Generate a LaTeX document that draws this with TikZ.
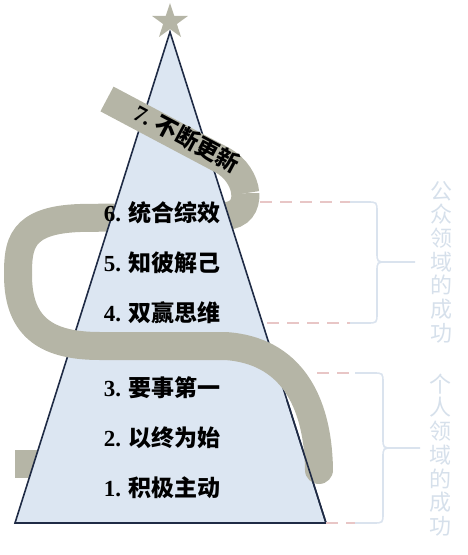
\documentclass[tikz,border=0pt]{standalone}
\usepackage{fontspec}
\setmainfont{Liberation Serif}
\newfontfamily\cjk{Noto Sans CJK SC}
\usetikzlibrary{shapes.geometric,calc,positioning}
\definecolor{ribbongray}{HTML}{B5B5A6}
\definecolor{treefill}{HTML}{DCE6F2}
\definecolor{treeline}{HTML}{1F2B45}
\definecolor{leadpink}{HTML}{E8C6C6}
\definecolor{bracecol}{HTML}{DAE3EE}
\definecolor{sideblue}{HTML}{D6E0EB}
\newcommand{\habit}[2]{\textbf{#1.}\hspace{0.3em}{\cjk\bfseries #2}}

\begin{document}
\begin{tikzpicture}[x=1pt, y=-1pt, node distance=50pt,
  ribbon/.style={draw=ribbongray, line width=28pt},
  treeedge/.style={draw=treeline, line width=1.6pt},
  habitlabel/.style={font=\fontsize{23}{26}\selectfont, text=black, inner sep=0pt},
  side/.style={font=\cjk\fontsize{22}{23.7}\selectfont, text=sideblue, align=center, inner sep=0pt},
  brace/.style={draw=bracecol, line width=1.6pt},
  leader/.style={draw=leadpink, line width=1.6pt, dash pattern=on 12pt off 8pt}]
  \useasboundingbox (0,0) rectangle (467,555);

  % ribbon behind the tree
  \draw[ribbon] (15,464) -- (280,464);
  \draw[ribbon] (245.25,193.25) .. controls (246.25,205.25) and (240,215.5) .. (225,216) -- (80,218)
    .. controls (20,220) and (18,245) .. (18,275);

  % tree
  \coordinate (apex) at (170,32);
  \coordinate (bl) at (15,523);
  \coordinate (br) at (326,523);
  \draw[treeedge, fill=treefill] (apex) -- (br) -- (bl) -- cycle;

  % ribbon in front of the tree
  \draw[ribbon] (107,99) -- (222,160) .. controls (236,167.5) and (244.25,181.25) .. (245.25,193.25);
  \draw[ribbon, line cap=round] (18,275) .. controls (18,330) and (50,346) .. (100,346) -- (225,346)
    .. controls (290,350) and (318,400) .. (319,470);
  \draw[treeedge] ($(apex)!0.75!(br)$) -- (br);

  \node[star, star points=5, star point ratio=2.6, fill=ribbongray, minimum size=37.6pt, inner sep=0pt] (topstar) at (170,21.8) {};

  % the seven habits
  \node[habitlabel] (habit1) at (162,488) {\habit{1}{积极主动}};
  \node[habitlabel, above of=habit1] (habit2) {\habit{2}{以终为始}};
  \node[habitlabel, above of=habit2] (habit3) {\habit{3}{要事第一}};
  \node[habitlabel] (habit4) at (162,313) {\habit{4}{双赢思维}};
  \node[habitlabel, above of=habit4] (habit5) {\habit{5}{知彼解己}};
  \node[habitlabel, above of=habit5] (habit6) {\habit{6}{统合综效}};
  \node[habitlabel, rotate=-28] (habit7) at (187,138) {\habit{7}{不断更新}};

  % public victory
  \coordinate (pubtop) at (350,202);
  \coordinate (pubbot) at (350,323);
  \coordinate (pubtip) at (415,262);
  \draw[leader] (260,202) -- (pubtop);
  \draw[leader] (267,323) -- (pubbot);
  \draw[brace] (pubtop) -- (367,202) .. controls (377,202) .. (377,212) -- (377,252)
    .. controls (377,262) .. (387,262) -- (pubtip);
  \draw[brace] (387,262) .. controls (377,262) .. (377,272) -- (377,313)
    .. controls (377,323) .. (367,323) -- (pubbot);
  \node[side] (pubtext) at (441,262) {公\\众\\领\\域\\的\\成\\功};

  % private victory
  \coordinate (pritop) at (355,373);
  \coordinate (pribot) at (355,523);
  \coordinate (pritip) at (420,448);
  \draw[leader] (317,373) -- (pritop);
  \draw[leader] (br) -- (pribot);
  \draw[brace] (pritop) -- (373,373) .. controls (383,373) .. (383,383) -- (383,438)
    .. controls (383,448) .. (393,448) -- (pritip);
  \draw[brace] (393,448) .. controls (383,448) .. (383,458) -- (383,513)
    .. controls (383,523) .. (373,523) -- (pribot);
  \node[side] (pritext) at (440,455) {个\\人\\领\\域\\的\\成\\功};
\end{tikzpicture}
\end{document}
